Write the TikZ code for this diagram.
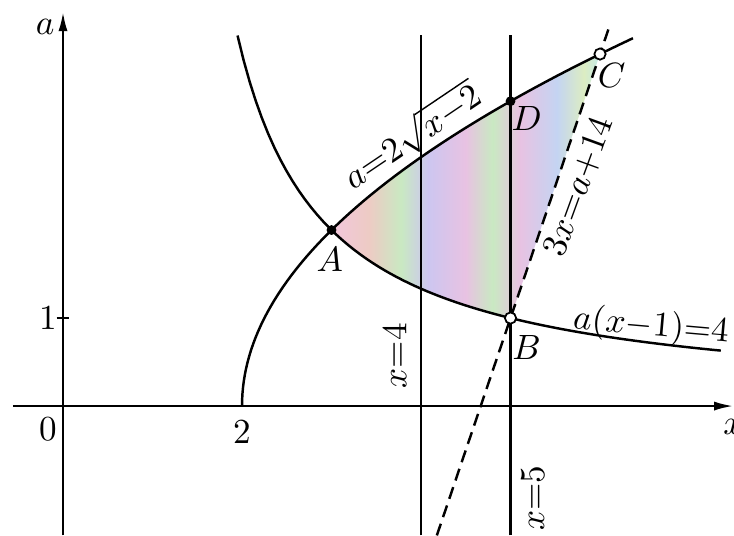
\documentclass[tikz,border=0pt]{standalone}
\usetikzlibrary{arrows.meta}

\begin{document}
\begin{tikzpicture}[x=0.895cm,y=0.88cm,line width=0.7pt]

% Colori pastello
\definecolor{colRosa}{HTML}{F2C6DC}
\definecolor{colPesca}{HTML}{EDCBC4}
\definecolor{colVerde}{HTML}{C9E9C2}
\definecolor{colViola}{HTML}{CDC6F0}
\definecolor{colMalva}{HTML}{E8C2E2}
\definecolor{colBlu}{HTML}{C4D4F2}
\definecolor{colGiallo}{HTML}{DCEDC2}
\definecolor{colCiano}{HTML}{C4E9E8}

\pgfdeclarehorizontalshading{arcobaleno}{100bp}{%
color(0bp)=(colRosa); color(25bp)=(colRosa);
color(32bp)=(colPesca); color(38bp)=(colVerde);
color(43bp)=(colViola); color(50bp)=(colMalva);
color(55bp)=(colVerde); color(60bp)=(colMalva);
color(67bp)=(colBlu); color(72bp)=(colGiallo);
color(75bp)=(colCiano); color(100bp)=(colCiano)}

\useasboundingbox (-0.704,-1.466) rectangle (7.497,4.614);

% Punti
\coordinate (O) at (0,0);
\coordinate (A) at (3,2);
\coordinate (B) at (5,1);
\coordinate (C) at (6,4);
\coordinate (D) at (5,{2*sqrt(3)});

% Regione colorata
\shade[shading=arcobaleno]
  plot[domain=3:6,samples=40] (\x,{2*sqrt(\x-2)}) -- (B)
  -- plot[domain=5:3,samples=40] (\x,{4/(\x-1)}) -- cycle;

% Assi
\draw[-{Latex[length=5.5pt,width=2.6pt]}] (-0.56,0) -- (7.49,0);
\draw[-{Latex[length=5.5pt,width=2.6pt]}] (0,-1.47) -- (0,4.48);
\draw (-0.07,1) -- (0.07,1);
\node (lblX) at (7.49,-0.24) {$x$};
\node (lblA0) at (-0.2,4.31) {$a$};
\node (lblO) at (-0.17,-0.26) {$0$};
\node (lbl1) at (-0.17,1) {$1$};
\node (lbl2) at (2,-0.3) {$2$};

% Rette verticali
\draw (4,-1.47) -- (4,4.22);
\draw (5,-1.47) -- (5,4.22);
\node[rotate=90] (lblx4) at (3.71,0.57) {$x{=}4$};
\node[rotate=90] (lblx5) at (5.25,-1.05) {$x{=}5$};

% Curve
\draw plot[domain=0:4.18,samples=60] ({2+\x*\x/4},\x);
\draw plot[domain=1.95:7.35,samples=80] (\x,{4/(\x-1)});
\draw[dash pattern=on 3.5pt off 2pt] (4.177,-1.47) -- (6.1,4.3);

\node[rotate=34] (lblRad) at (3.9,3.07) {$a{=}2\sqrt{x{-}2}$};
\node[rotate=70] (lblRet) at (5.76,2.49) {$3x{=}a{+}14$};
\node[rotate=-5] (lblIp) at (6.57,0.9) {$a(x{-}1){=}4$};

% Punti notevoli
\fill (A) circle (1.4pt);
\fill (D) circle (1.4pt);
\draw[fill=white,line width=0.5pt] (B) circle (1.6pt);
\draw[fill=white,line width=0.5pt] (C) circle (1.6pt);
\node (lblA) at (2.98,1.66) {$A$};
\node (lblB) at (5.18,0.67) {$B$};
\node (lblC) at (6.13,3.76) {$C$};
\node (lblD) at (5.18,3.27) {$D$};

\end{tikzpicture}
\end{document}
